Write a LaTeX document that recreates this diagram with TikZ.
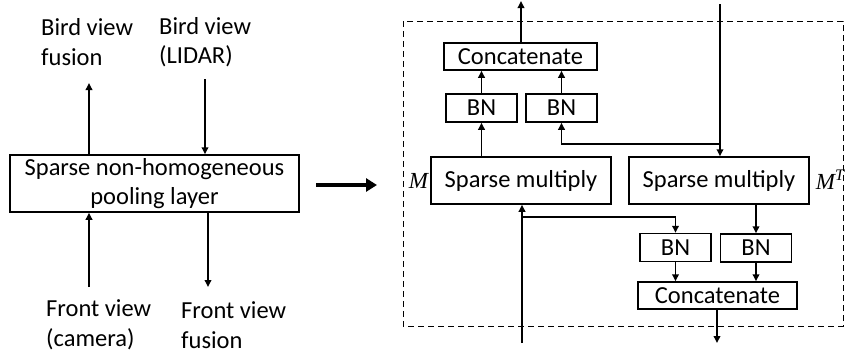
\documentclass[tikz,border=0pt]{standalone}
\usepackage{fontspec}
\setmainfont{Carlito}
\newfontfamily\mathserif{Liberation Serif}
\usepackage{tikz}
\usetikzlibrary{
    arrows.meta,
    positioning
}

\begin{document}
\begin{tikzpicture}[
    x=1pt, y=-1pt,
    font=\fontsize{24.5}{29.5}\selectfont,
    box/.style={
        rectangle,
        draw=black,
        line width=1.5pt,
        inner sep=0pt,
        align=center
    },
    bn/.style={
        box,
        minimum height=28pt,
        minimum width=71pt
    },
    cat/.style={
        box,
        minimum height=27pt
    },
    mult/.style={
        box,
        minimum height=47pt,
        minimum width=180pt
    },
    lbl/.style={
        align=left,
        inner sep=0pt,
        anchor=west
    },
    mlabel/.style={
        inner sep=0pt,
        font=\mathserif\itshape\fontsize{23}{26}\selectfont
    },
    arrow/.style={-{Triangle[length=7pt, width=6.5pt]}, line width=1.8pt, black},
    bigarrow/.style={-{Triangle[length=11pt, width=13pt]}, line width=4pt, black},
    frame/.style={dashed, dash pattern=on 6pt off 4pt, line width=1pt, black}
]
\useasboundingbox (0,0) rectangle (846,354);

% ===== LEFT: pooling layer =====
\node[box, minimum width=289pt, minimum height=57pt] (pool) at (154.5,183.5)
    {Sparse non-homogeneous\\pooling layer};

\node[lbl] (bvf) at (41,42) {Bird view\\fusion};
\node[lbl] (bvl) at (159,42) {Bird view\\(LIDAR)};
\node[lbl] (fvc) at (46,325) {Front view\\(camera)};
\node[lbl] (fvf) at (181,325) {Front view\\fusion};

\coordinate (bvfend) at (89,83);
\coordinate (bvlbeg) at (205,79);
\coordinate (fvcbeg) at (89,287);
\coordinate (fvfend) at (208,287);

\draw[arrow] (pool.north -| bvfend) -- (bvfend);
\draw[arrow] (bvlbeg) -- (bvlbeg |- pool.north);
\draw[arrow] (fvcbeg) -- (fvcbeg |- pool.south);
\draw[arrow] (pool.south -| fvfend) -- (fvfend);

% big arrow to the expanded view
\coordinate (expbeg) at (316,185);
\coordinate (expend) at (377,185);
\draw[bigarrow] (expbeg) -- (expend);

% ===== RIGHT: expanded view =====
\draw[frame] (403,21) rectangle (843,326);

\node[mult] (smL) at (521,180.5) {Sparse multiply};
\node[mult] (smR) at (719,180.5) {Sparse multiply};
\node[mlabel, left=2pt of smL] (mlab) {M};
\node[mlabel, right=6pt of smR, yshift=1pt] (mtlab) {M\textsuperscript{T}};

% upper branch
\node[bn] (bnT1) at (481.5,108) {BN};
\node[bn] (bnT2) at (561.5,108) {BN};
\node[cat, minimum width=153pt] (catT) at (520.5,56.5) {Concatenate};

% lower branch
\node[bn] (bnB1) at (675.5,247.5) {BN};
\node[bn] (bnB2) at (756,248) {BN};
\node[cat, minimum width=159pt] (catB) at (717.5,295.5) {Concatenate};

\coordinate (topin) at (720,4);
\coordinate (topsplit) at (720,144);
\coordinate (topout) at (521,1);
\coordinate (botin) at (522,343);
\coordinate (botsplit) at (522,217);
\coordinate (botout) at (717,343);

\draw[arrow] (topin) -- (topin |- smR.north);
\draw[arrow] (topsplit) -| (bnT2.south);
\draw[arrow] (smL.north -| bnT1) -- (bnT1.south);
\draw[arrow] (bnT1.north) -- (bnT1 |- catT.south);
\draw[arrow] (bnT2.north) -- (bnT2 |- catT.south);
\draw[arrow] (catT.north -| topout) -- (topout);

\draw[arrow] (botin) -- (botin |- smL.south);
\draw[arrow] (botsplit) -| (bnB1.north);
\draw[arrow] (smR.south -| bnB2) -- (bnB2.north);
\draw[arrow] (bnB1.south) -- (bnB1 |- catB.north);
\draw[arrow] (bnB2.south) -- (bnB2 |- catB.north);
\draw[arrow] (catB.south -| botout) -- (botout);

\end{tikzpicture}
\end{document}
